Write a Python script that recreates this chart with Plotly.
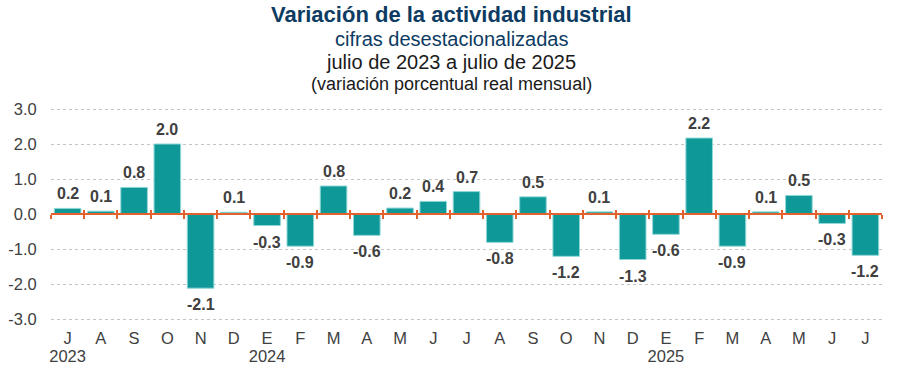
import plotly.graph_objects as go

categories = ["2023-07", "2023-08", "2023-09", "2023-10", "2023-11", "2023-12",
              "2024-01", "2024-02", "2024-03", "2024-04", "2024-05", "2024-06",
              "2024-07", "2024-08", "2024-09", "2024-10", "2024-11", "2024-12",
              "2025-01", "2025-02", "2025-03", "2025-04", "2025-05", "2025-06",
              "2025-07"]
month_labels = ["J", "A", "S", "O", "N", "D",
                "E", "F", "M", "A", "M", "J",
                "J", "A", "S", "O", "N", "D",
                "E", "F", "M", "A", "M", "J",
                "J"]
year_categories = ["2023-07", "2024-01", "2025-01"]
year_labels = ["2023", "2024", "2025"]
values = [0.16, 0.08, 0.76, 2.00, -2.12, 0.05,
          -0.33, -0.92, 0.80, -0.61, 0.17, 0.36,
          0.64, -0.81, 0.49, -1.21, 0.06, -1.30,
          -0.58, 2.17, -0.92, 0.06, 0.53, -0.27,
          -1.18]
value_labels = ["0.2", "0.1", "0.8", "2.0", "-2.1", "0.1",
                "-0.3", "-0.9", "0.8", "-0.6", "0.2", "0.4",
                "0.7", "-0.8", "0.5", "-1.2", "0.1", "-1.3",
                "-0.6", "2.2", "-0.9", "0.1", "0.5", "-0.3",
                "-1.2"]
y_ticks = [-3, -2, -1, 0, 1, 2, 3]
y_tick_labels = ["-3.0", "-2.0", "-1.0", "0.0", "1.0", "2.0", "3.0"]

title_lines = ["<b>Variación de la actividad industrial</b>",
               "cifras desestacionalizadas",
               "julio de 2023 a julio de 2025",
               "(variación porcentual real mensual)"]

FONT = "Liberation Sans, Arial, sans-serif"
TEAL = "#0f9898"
ORANGE = "#e2612c"
GRAY = "#404040"
NAVY = "#0d3b62"

fig = go.Figure()
fig.add_trace(go.Bar(
    x=categories, y=values, width=0.8,
    marker=dict(color=TEAL, line=dict(color="#8fd6d6", width=1)),
    hoverinfo="skip", showlegend=False,
))
for ax in ["x2", "x3", "x4"]:
    fig.add_trace(go.Scatter(
        x=categories, y=[0] * len(categories), xaxis=ax, mode="markers",
        marker=dict(opacity=0), hoverinfo="skip", showlegend=False,
    ))

# value labels placed through the data axes
for cat, v, lab in zip(categories, values, value_labels):
    fig.add_annotation(
        x=cat, y=v, xref="x", yref="y", text=f"<b>{lab}</b>", showarrow=False,
        yanchor="middle", xanchor="center", yshift=14.5 if v >= 0 else -16.5,
        font=dict(family=FONT, size=16, color=GRAY),
    )

axis_common = dict(type="category", categoryorder="array", categoryarray=categories,
                   range=[-0.5, len(categories) - 0.5], automargin=False)

fig.update_layout(
    width=897, height=372,
    margin=dict(l=51, r=15, t=102, b=46),
    paper_bgcolor="white", plot_bgcolor="white",
    font=dict(family=FONT, color=GRAY),
    xaxis=dict(**axis_common, tickvals=categories, ticktext=month_labels,
               showgrid=False, zeroline=False, showline=False,
               ticks="", tickfont=dict(size=16.5, color=GRAY)),
    xaxis2=dict(**axis_common, overlaying="x", anchor="free", position=0.5,
                showline=True, linecolor=ORANGE, linewidth=2,
                ticks="outside", tickson="boundaries", ticklen=4, tickwidth=2,
                tickcolor=ORANGE, showticklabels=False, showgrid=False, zeroline=False),
    xaxis3=dict(**axis_common, overlaying="x", anchor="free", position=0.5,
                showline=False,
                ticks="inside", tickson="boundaries", ticklen=4, tickwidth=2,
                tickcolor=ORANGE, showticklabels=False, showgrid=False, zeroline=False),
    xaxis4=dict(**axis_common, overlaying="x", anchor="y", side="bottom",
                tickvals=year_categories, ticktext=year_labels,
                ticks="", ticklabelstandoff=18, showline=False,
                showgrid=False, zeroline=False, tickfont=dict(size=16.5, color=GRAY)),
    yaxis=dict(range=[-3.2, 3.2], tickvals=y_ticks, ticktext=y_tick_labels,
               showgrid=True, gridcolor="#c4c4c4", griddash="dot", gridwidth=1,
               zeroline=False, showline=False, automargin=False,
               ticks="outside", ticklen=10, tickcolor="rgba(0,0,0,0)",
               tickfont=dict(size=16.5, color=GRAY)),
)

title_y = [15, 38.5, 62, 84]
title_sizes = [22, 20, 20, 18]
title_colors = [NAVY, NAVY, "#1a1a1a", "#1a1a1a"]
plot_top, plot_h = 102, 224
for line, py, sz, col in zip(title_lines, title_y, title_sizes, title_colors):
    fig.add_annotation(
        text=line, xref="paper", yref="paper", x=(451 - 51) / 831,
        y=(plot_top + plot_h - py) / plot_h, xanchor="center", yanchor="middle",
        showarrow=False, borderpad=0, font=dict(family=FONT, size=sz, color=col),
    )

fig.write_html("out.html", config={"displayModeBar": False},
               post_script="document.body.style.margin='0px';")
